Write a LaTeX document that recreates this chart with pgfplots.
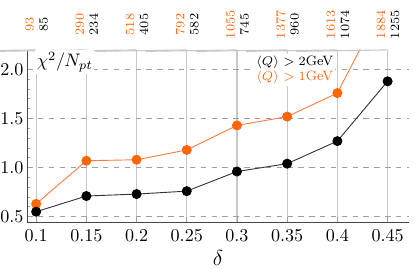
\documentclass[border=0pt]{standalone}
\usepackage{pgfplots}
\pgfplotsset{compat=1.18}
\definecolor{myorange}{RGB}{255,102,10}
\definecolor{linorange}{RGB}{255,125,60}
\definecolor{gridv}{RGB}{200,200,200}
\definecolor{gridh}{RGB}{160,160,160}
\definecolor{axiscol}{RGB}{70,70,70}
\begin{document}
\begin{tikzpicture}
\begin{axis}[
  at={(0,0)}, anchor=south west,
  width=211pt, height=95.5pt, scale only axis,
  xmin=0.091, xmax=0.471, ymin=0.439, ymax=2.2,
  axis lines=left,
  axis line style={-, axiscol, line width=0.6pt},
  clip mode=individual,
  xtick={0.1,0.15,0.2,0.25,0.3,0.35,0.4,0.45},
  xticklabels={0.1,0.15,0.2,0.25,0.3,0.35,0.4,0.45},
  ytick={0.5,1.0,1.5,2.0},
  yticklabel style={xshift=1.5pt, /pgf/number format/.cd, fixed, fixed zerofill, precision=1},
  minor y tick num=4,
  tick style={gridh, line width=0.5pt},
  major tick length=3pt, minor tick length=1.8pt,
  tick align=inside,
  xmajorgrids, ymajorgrids,
  x grid style={gridv, line width=0.6pt},
  y grid style={gridh, dashed, dash pattern=on 3pt off 3pt, line width=0.5pt},
  xlabel={$\delta$},
  xlabel style={font=\large, yshift=2pt},
]
\addplot[linorange, line width=0.5pt, mark=*, mark size=2.5pt, mark options={fill=myorange, draw=myorange}]
  coordinates {(0.1,0.63)(0.15,1.07)(0.2,1.08)(0.25,1.18)(0.3,1.43)(0.35,1.52)(0.4,1.76)(0.45,2.75)};
\addplot[black!80, line width=0.5pt, mark=*, mark size=2.5pt, mark options={fill=black, draw=black}]
  coordinates {(0.1,0.55)(0.15,0.71)(0.2,0.73)(0.25,0.76)(0.3,0.96)(0.35,1.04)(0.4,1.27)(0.45,1.88)};
\foreach \x/\o/\b in {0.1/93/85,0.15/290/234,0.2/518/405,0.25/792/582,0.3/1055/745,0.35/1377/960,0.4/1613/1074,0.45/1884/1255}{
  \edef\temp{\noexpand\draw[gridv, line width=0.6pt] (axis cs:\x,2.2) -- ++(0,23pt);
  \noexpand\node[rotate=90, anchor=south, inner sep=1pt, font=\noexpand\scriptsize, text=myorange] at ([yshift=14pt]axis cs:\x,2.2) {\o};
  \noexpand\node[rotate=90, anchor=north, inner sep=1.5pt, font=\noexpand\scriptsize] at ([yshift=14pt]axis cs:\x,2.2) {\b};}
  \temp
}
\node[anchor=north west, fill=white, inner sep=1pt] at (axis cs:0.0985,2.2) {$\chi^2/N_{pt}$};
\node[anchor=north east, fill=white, inner sep=1pt, align=right, font=\fontsize{7.5}{8.5}\selectfont] at (axis cs:0.398,2.16)
  {$\langle Q\rangle > 2$GeV\\ \textcolor{myorange}{$\langle Q\rangle > 1$GeV}};
\end{axis}
\pgfresetboundingbox
\path[use as bounding box] (-15pt,-25.4pt) rectangle (214.5pt,123.1pt);
\end{tikzpicture}
\end{document}
